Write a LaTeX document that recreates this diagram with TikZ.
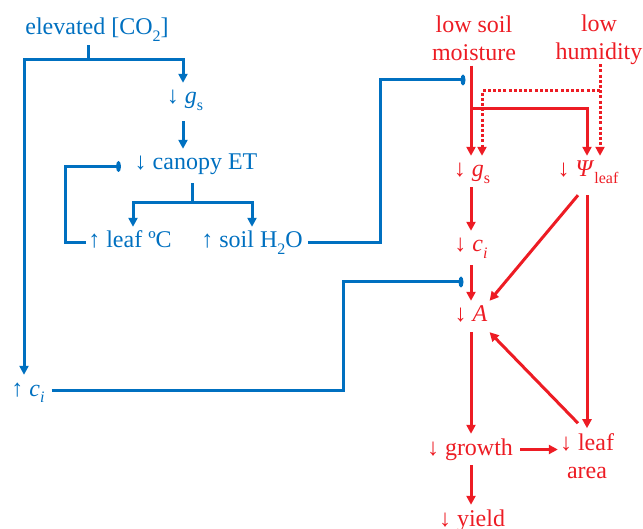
\documentclass[tikz,border=0pt]{standalone}
\usepackage{fontspec}
\setmainfont{Liberation Serif}
\usetikzlibrary{arrows.meta,calc}
\definecolor{cblue}{RGB}{0,112,192}
\definecolor{cred}{RGB}{237,28,36}
\newcommand\sbs[1]{\raisebox{-0.27em}{\fontsize{16}{16}\selectfont #1}}
\tikzset{
  lbl/.style={font=\fontsize{24}{28}\selectfont, inner xsep=2pt, inner ysep=5pt, text height=16pt, text depth=5pt, anchor=base},
  mlbl/.style={font=\fontsize{24}{28}\selectfont, inner xsep=2pt, inner ysep=5pt, align=center},
  bt/.style={text=cblue},
  rt/.style={text=cred},
  bl/.style={draw=cblue, line width=3pt},
  bla/.style={bl, -{Triangle[length=9pt,width=9pt]}},
  rl/.style={draw=cred, line width=3pt},
  rla/.style={rl, -{Triangle[length=9pt,width=9pt]}},
  rda/.style={rla, dash pattern=on 3pt off 2.2pt},
  blob/.style={fill=cblue},
}
\begin{document}
\begin{tikzpicture}[x=1pt,y=-1pt]
\useasboundingbox (0,0) rectangle (643,529);
% ---- blue text
\node[lbl,bt] (elev) at (97,35) {elevated [CO\sbs{2}]};
\node[lbl,bt] (gsB) at (185,104) {↓ \textit{g}\sbs{s}};
\node[lbl,bt] (can) at (196,170) {↓ canopy ET};
\node[lbl,bt] (leafC) at (130,248) {↑ leaf ºC};
\node[lbl,bt] (soil) at (252,248) {↑ soil H\sbs{2}O};
\node[lbl,bt] (ciB) at (28,396) {↑ \textit{c}\sbs{\textit{i}}};
% ---- red text
\node[mlbl,rt] (moist) at (474,38) {low soil\\moisture};
\node[mlbl,rt] (hum) at (599,40) {low\\humidity};
\node[lbl,rt] (gsR) at (472,177) {↓ \textit{g}\sbs{s}};
\node[lbl,rt] (psi) at (588,177) {↓ \textit{Ψ}\sbs{leaf}};
\node[lbl,rt] (ciR) at (471,252) {↓ \textit{c}\sbs{\textit{i}}};
\node[lbl,rt] (A) at (471,322) {↓ \textit{A}};
\node[lbl,rt] (grow) at (470,455) {↓ growth};
\node[mlbl,rt] (leaf) at (587,456) {↓ leaf\\area};
\node[lbl,rt] (yield) at (472,526) {↓ yield};
% ---- columns / junctions
\coordinate (colB) at (183,0);
\coordinate (colL) at (24,0);
\coordinate (jE) at (88,60);
\coordinate (jC) at (192,203);
\coordinate (colLC) at (133,0);
\coordinate (colR) at (471,0);
\coordinate (colPsi) at (587,0);
\coordinate (colH) at (600,0);
\coordinate (colD) at (482,0);
\coordinate (jR) at (471,109);
\coordinate (jH) at (600,91);
% ---- blue connectors
\draw[bl] (elev.south -| jE) -- (jE);
\draw[bla] (jE) -| (gsB.north -| colB);
\draw[bla] (jE) -| (ciB.north -| colL);
\draw[bla, shorten <=7pt] (gsB.south -| colB) -- (can.north -| colB);
\draw[bl, shorten <=3pt] (can.south -| jC) -- (jC);
\draw[bla] (jC) -| (leafC.north -| colLC);
\draw[bla] (jC) -| (soil.north);
\coordinate (b1) at ($(can.west)+(-14,2)$);
\draw[bl] (leafC.west) -| ($(can.west)+(-67,2)$) -- (b1);
\fill[blob] (b1) ellipse (2.5 and 5.5);
\coordinate (b2) at (463,80);
\draw[bl, shorten <=3pt] (soil.east) -| (380,80) -- (b2);
\fill[blob] (b2) ellipse (2.5 and 5.5);
\coordinate (b3) at (461,282);
\draw[bl, shorten <=5pt] (ciB.east) -| (343,282) -- (b3);
\fill[blob] (b3) ellipse (2.5 and 5.5);
% ---- red connectors
\draw[rla] (moist.south -| colR) -- (gsR.north -| colR);
\draw[rla] (jR) -| (psi.north -| colPsi);
\draw[rda, shorten <=-6pt] (hum.south -| colH) -- (psi.north -| colH);
\draw[rda] (jH) -| (gsR.north -| colD);
\draw[rla] (gsR.south -| colR) -- (ciR.north -| colR);
\draw[rla, shorten <=3pt] (ciR.south -| colR) -- (A.north -| colR);
\draw[rla] ($(psi.south)+(-10,8)$) -- (A.north east);
\draw[rla, shorten <=8pt] (psi.south -| colPsi) -- (leaf.north -| colPsi);
\draw[rla] ($(leaf.north)+(-9,-5)$) -- (A.south east);
\draw[rla] (A.south -| colR) -- (grow.north -| colR);
\draw[rla, shorten <=5pt] (grow.east) -- (leaf.west |- grow.east);
\draw[rla] (grow.south -| colR) -- (yield.north -| colR);
\end{tikzpicture}
\end{document}
